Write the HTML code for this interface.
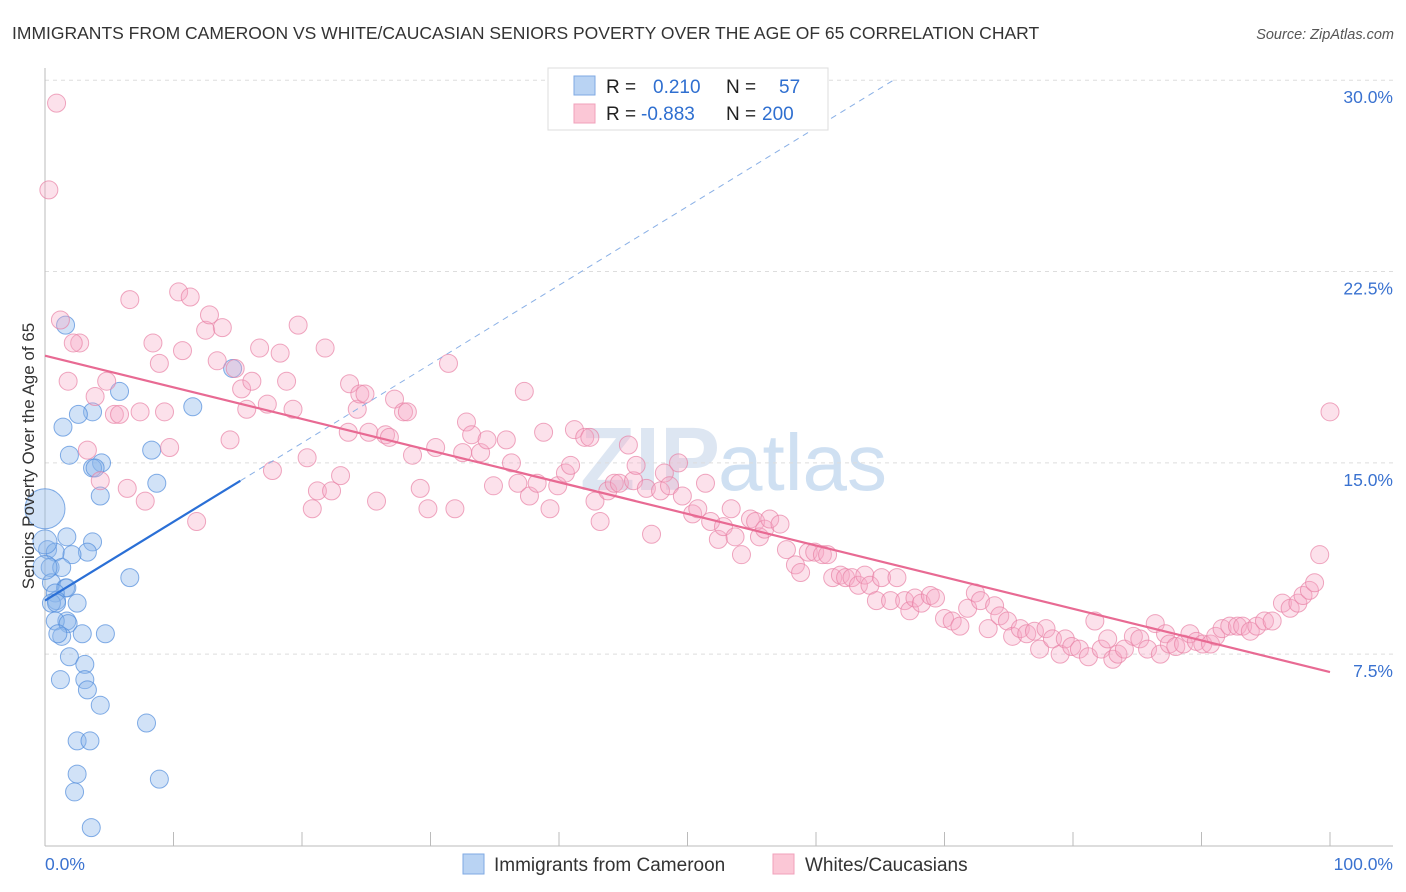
<!DOCTYPE html>
<html><head><meta charset="utf-8"><style>
body{margin:0;background:#fff;font-family:"Liberation Sans",sans-serif;}
svg{display:block}
</style></head><body>
<svg id="chart" width="1406" height="892">
<text x="12" y="39" font-size="17.5" fill="#333">IMMIGRANTS FROM CAMEROON VS WHITE/CAUCASIAN SENIORS POVERTY OVER THE AGE OF 65 CORRELATION CHART</text>
<text x="1394" y="39" font-size="14.5" fill="#555" font-style="italic" text-anchor="end">Source: ZipAtlas.com</text>
<text x="720" y="490" font-size="90" font-weight="bold" fill="#dde6f2" text-anchor="end">ZIP</text>
<text x="718" y="490" font-size="80" fill="#cfe0f2">atlas</text>
<g id="grid"></g>
<g id="axes"></g>
<g id="blue"></g>
<g id="pink"></g>
<g id="trend"></g>
<text transform="translate(34,456) rotate(-90)" font-size="17" fill="#333" text-anchor="middle">Seniors Poverty Over the Age of 65</text>
<g>
<rect x="548" y="68" width="280" height="62" fill="#fff" stroke="#ddd"/>
<rect x="574" y="76" width="21" height="19" fill="#b9d3f3" stroke="#7fa9e3"/>
<rect x="574" y="104" width="21" height="19" fill="#fbc7d6" stroke="#f0a0bb"/>
<text x="606" y="93" font-size="19" fill="#222">R = <tspan fill="#2f6fd0" x="653">0.210</tspan><tspan x="726" fill="#222">N =</tspan><tspan x="779" fill="#2f6fd0">57</tspan></text>
<text x="606" y="120" font-size="19" fill="#222">R = <tspan fill="#2f6fd0" x="641">-0.883</tspan><tspan x="726" fill="#222">N =</tspan><tspan x="762" fill="#2f6fd0">200</tspan></text>
</g>
<g>
<rect x="463" y="854" width="21" height="20" fill="#b9d3f3" stroke="#7fa9e3"/>
<text x="494" y="871" font-size="19" fill="#333">Immigrants from Cameroon</text>
<rect x="773" y="854" width="21" height="20" fill="#fbc7d6" stroke="#f0a0bb"/>
<text x="805" y="871" font-size="19" fill="#333">Whites/Caucasians</text>
</g>
</svg>
<script>
const yTicks=[7.5,15,22.5,30];
const yTickLabels=["7.5%","15.0%","22.5%","30.0%"];
const xTicks=[0,10,20,30,40,50,60,70,80,90,100];
const blueX=[0,5.8,3.7,2.6,1.4,11.5,1.9,8.3,4.4,3.7,3.9,8.7,4.3,1.7,3.7,0.2,0.8,3.3,2.1,0.4,1.3,6.6,0.5,1.6,1.7,0.8,0.9,2.5,0.5,0.9,1.7,0.8,1.8,2.9,4.7,1.3,1.0,1.9,3.1,1.2,3.1,3.3,4.3,7.9,2.5,3.5,2.5,8.9,2.3,3.6,14.6,1.6,0,0];
const blueY=[13.2,17.8,17.0,16.9,16.4,17.2,15.3,15.5,15.0,14.8,14.8,14.2,13.7,12.1,11.9,11.6,11.5,11.5,11.4,10.9,10.9,10.5,10.3,10.1,10.1,9.9,9.6,9.5,9.5,9.5,8.8,8.8,8.7,8.3,8.3,8.2,8.3,7.4,7.1,6.5,6.5,6.1,5.5,4.8,4.1,4.1,2.8,2.6,2.1,0.7,18.7,20.4,11.9,10.9];
const blueR=[20,9,9,9,9,9,9,9,9,9,9,9,9,9,9,9,9,9,9,9,9,9,9,9,9,9,9,9,9,9,9,9,9,9,9,9,9,9,9,9,9,9,9,9,9,9,9,9,9,9,9,9,12,12];
const pinkX=[0.9,0.3,1.2,1.8,2.7,2.2,3.3,4.3,3.9,4.8,5.4,5.8,6.6,6.4,7.4,7.8,8.4,8.9,9.3,9.7,10.4,10.7,11.3,11.8,12.5,12.8,13.4,13.8,14.4,14.8,15.3,15.7,16.1,16.7,17.3,17.7,18.3,18.8,19.3,19.7,20.4,20.8,21.2,21.8,22.3,23.0,23.6,23.7,24.3,24.5,24.9,25.2,25.8,26.5,26.8,27.2,27.9,28.2,28.6,29.2,29.8,30.4,31.4,31.9,32.5,32.8,33.2,33.9,34.4,34.9,35.9,36.3,36.8,37.3,37.7,38.3,38.8,39.3,39.9,40.5,40.9,41.2,42.0,42.4,42.8,43.2,43.8,44.3,44.7,45.4,45.8,46.0,46.8,47.2,47.9,48.2,48.6,49.3,49.6,50.4,50.8,51.4,51.8,52.4,52.8,53.4,53.7,54.2,54.9,55.3,55.6,56.0,56.4,57.2,57.7,58.4,58.8,59.4,59.9,60.5,60.9,61.3,61.9,62.3,62.8,63.3,63.8,64.2,64.7,65.1,65.8,66.3,66.9,67.3,67.7,68.2,68.9,69.3,70.0,70.6,71.2,71.8,72.4,72.8,73.4,73.9,74.3,74.9,75.3,75.9,76.4,77.0,77.4,77.9,78.4,79.0,79.4,79.9,80.5,81.2,81.7,82.2,82.7,83.1,83.5,84.0,84.7,85.2,85.8,86.4,86.8,87.2,87.5,88.0,88.6,89.1,89.6,90.1,90.7,91.1,91.6,92.2,92.8,93.2,93.8,94.3,94.9,95.5,96.3,96.9,97.5,97.9,98.4,98.8,99.2,100];
const pinkY=[29.1,25.7,20.6,18.2,19.7,19.7,15.5,14.3,17.6,18.2,16.9,16.9,21.4,14.0,17.0,13.5,19.7,18.9,17.0,15.6,21.7,19.4,21.5,12.7,20.2,20.8,19.0,20.3,15.9,18.7,17.9,17.1,18.2,19.5,17.3,14.7,19.3,18.2,17.1,20.4,15.2,13.2,13.9,19.5,13.9,14.5,16.2,18.1,17.1,17.7,17.7,16.2,13.5,16.1,16.0,17.5,17.0,17.0,15.3,14.0,13.2,15.6,18.9,13.2,15.4,16.6,16.1,15.4,15.9,14.1,15.9,15.0,14.2,17.8,13.7,14.2,16.2,13.2,14.1,14.6,14.9,16.3,16.0,16.0,13.5,12.7,13.9,14.2,14.2,15.7,14.3,14.9,14.0,12.2,13.9,14.6,14.1,15.0,13.7,13.0,13.2,14.2,12.7,12.0,12.5,13.2,12.1,11.4,12.8,12.7,12.1,12.4,12.8,12.6,11.6,11.0,10.7,11.5,11.5,11.4,11.4,10.5,10.6,10.5,10.5,10.2,10.6,10.2,9.6,10.5,9.6,10.5,9.6,9.2,9.7,9.5,9.8,9.7,8.9,8.8,8.6,9.3,9.9,9.6,8.5,9.4,9.0,8.8,8.2,8.5,8.3,8.4,7.7,8.5,8.1,7.5,8.1,7.8,7.7,7.4,8.8,7.7,8.1,7.3,7.5,7.7,8.2,8.1,7.7,8.7,7.5,8.3,7.9,7.8,7.9,8.3,8.0,7.9,7.9,8.2,8.5,8.6,8.6,8.6,8.4,8.6,8.8,8.8,9.5,9.3,9.5,9.8,10.0,10.3,11.4,17.0];
const blueTrend=[9.6,0.309];   // intercept, slope
const blueSolidEnd=[15.2];
const pinkTrend=[19.2,-0.124];
const NS="http://www.w3.org/2000/svg";
const X0=45,X1=1330,Y0=845.5,YPER=25.51;
function xs(v){return X0+(X1-X0)*v/100;}
function ys(v){return Y0-v*YPER;}
function mk(tag,attrs,parent){const e=document.createElementNS(NS,tag);for(const k in attrs)e.setAttribute(k,attrs[k]);parent.appendChild(e);return e;}
const grid=document.getElementById('grid'),axes=document.getElementById('axes');
yTicks.forEach((t,i)=>{
 const l=mk('line',{x1:45,x2:1393,y1:ys(t),y2:ys(t),stroke:'#ddd','stroke-dasharray':'4,4'},grid);
 
 
 const tx=mk('text',{x:1393,y:ys(t)+23,'font-size':17.5,fill:'#3a72d0','text-anchor':'end'},grid);
 tx.textContent=yTickLabels[i];
 
 
});
const ax=mk('line',{x1:45,x2:45,y1:68,y2:846,stroke:'#bbb'},axes);


const bx=mk('line',{x1:45,x2:1393,y1:846,y2:846,stroke:'#bbb'},axes);


xTicks.forEach(t=>{
 const l=mk('line',{x1:xs(t),x2:xs(t),y1:832,y2:846,stroke:'#bbb'},axes);
 
 
});
const xl0=mk('text',{x:45,y:870,'font-size':17.5,fill:'#3a72d0'},axes);xl0.textContent='0.0%';


const xl1=mk('text',{x:1393,y:870,'font-size':17.5,fill:'#3a72d0','text-anchor':'end'},axes);xl1.textContent='100.0%';


const pg=document.getElementById('pink');
pinkX.forEach((x,i)=>{
 const c=mk('circle',{cx:xs(x),cy:ys(pinkY[i]),r:9,fill:'rgba(247,170,198,0.35)',stroke:'rgba(232,130,165,0.7)','stroke-width':1},pg);
 
 
});
const bg=document.getElementById('blue');
blueX.forEach((x,i)=>{
 const c=mk('circle',{cx:xs(x),cy:ys(blueY[i]),r:blueR[i],fill:'rgba(140,182,236,0.4)',stroke:'rgba(80,140,220,0.7)','stroke-width':1},bg);
 
 
});
const tg=document.getElementById('trend');
const xd=(30-blueTrend[0])/blueTrend[1];
const bd=mk('line',{x1:xs(blueSolidEnd[0]),y1:ys(blueTrend[0]+blueTrend[1]*blueSolidEnd[0]),x2:xs(xd),y2:ys(30),stroke:'#8ab0e6','stroke-width':1,'stroke-dasharray':'6,5'},tg);


const bs=mk('line',{x1:xs(0),y1:ys(blueTrend[0]),x2:xs(blueSolidEnd[0]),y2:ys(blueTrend[0]+blueTrend[1]*blueSolidEnd[0]),stroke:'#2a6fd6','stroke-width':2.2},tg);


const pt=mk('line',{x1:xs(0),y1:ys(pinkTrend[0]),x2:xs(100),y2:ys(pinkTrend[0]+pinkTrend[1]*100),stroke:'#e86a93','stroke-width':2.2},tg);


</script>
</body></html>
